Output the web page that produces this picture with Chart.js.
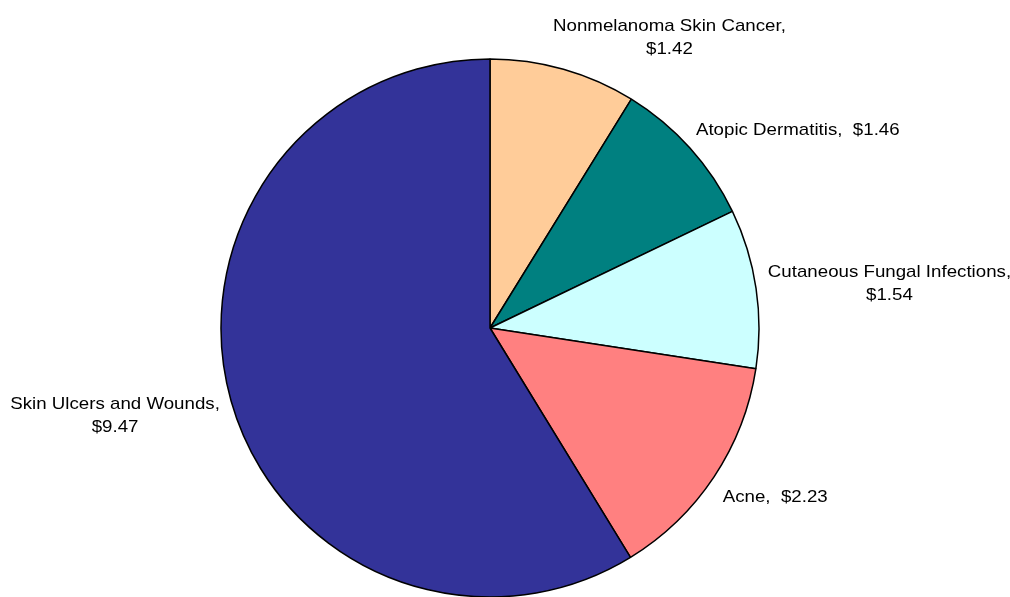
<!DOCTYPE html>
<html>
<head>
<meta charset="utf-8">
<script src="https://cdn.jsdelivr.net/npm/chart.js@4.4.0/dist/chart.umd.min.js"></script>
<style>
  html, body { margin: 0; padding: 0; background: #ffffff; overflow: hidden; }
  #wrap { position: absolute; left: 0; top: 0; width: 1010px; height: 600px; }
</style>
</head>
<body>
<div id="wrap"><canvas id="c"></canvas></div>
<script>
// ---- data ----
const categories = ["Nonmelanoma Skin Cancer", "Atopic Dermatitis", "Cutaneous Fungal Infections", "Acne", "Skin Ulcers and Wounds"];
const values = [1.42, 1.46, 1.54, 2.23, 9.47];
const wrapLabel = [true, false, true, false, true];
const colors = ["#FFCC99", "#008080", "#CCFFFF", "#FF8080", "#333399"];

const labelLines = categories.map((c, i) => {
  const v = "$" + values[i].toFixed(2);
  return wrapLabel[i] ? [c + ",", v] : [c + ",  " + v];
});

const FONT = '17px "Liberation Sans", Arial, sans-serif';
const SCALE_X = 1.1;
const LINE_H = 23;

const outsideLabels = {
  id: 'outsideLabels',
  afterDatasetsDraw(chart) {
    const ctx = chart.ctx;
    const meta = chart.getDatasetMeta(0);
    ctx.save();
    ctx.font = FONT;
    ctx.fillStyle = '#000';
    ctx.textBaseline = 'middle';
    ctx.textAlign = 'center';
    meta.data.forEach((arc, i) => {
      const p = arc.getProps(['x', 'y', 'startAngle', 'endAngle', 'outerRadius'], true);
      const mid = (p.startAngle + p.endAngle) / 2;
      const R = p.outerRadius + 20;
      const ax = p.x + R * Math.cos(mid);
      const ay = p.y + R * Math.sin(mid);
      const lines = labelLines[i];
      const w = Math.max(...lines.map(l => ctx.measureText(l).width)) * SCALE_X;
      const h = lines.length * LINE_H - 3;
      const s = Math.sin(mid);
      const gap = 8 + 10 * Math.pow(Math.max(0, -s), 6);
      let cx;
      if (Math.cos(mid) >= 0) cx = ax - gap + w / 2;
      else cx = ax + gap - w / 2;
      const cy = ay + s * (h / 2) * (s < 0 ? 0.6 : 1.65);
      const top = cy - (lines.length - 1) * LINE_H / 2;
      lines.forEach((l, k) => {
        ctx.save();
        ctx.translate(cx, top + k * LINE_H);
        ctx.scale(SCALE_X, 1);
        ctx.fillText(l, 0, 0);
        ctx.restore();
      });
    });
    ctx.restore();
  }
};

new Chart(document.getElementById('c'), {
  type: 'pie',
  data: {
    labels: categories,
    datasets: [{
      data: values,
      backgroundColor: colors,
      borderColor: '#000000',
      borderWidth: 1.5
    }]
  },
  options: {
    responsive: true,
    maintainAspectRatio: false,
    animation: false,
    radius: 269,
    layout: { padding: { top: 56, bottom: 0, left: 0, right: 30 } },
    plugins: {
      legend: { display: false },
      tooltip: { enabled: false }
    }
  },
  plugins: [outsideLabels]
});
</script>
</body>
</html>
